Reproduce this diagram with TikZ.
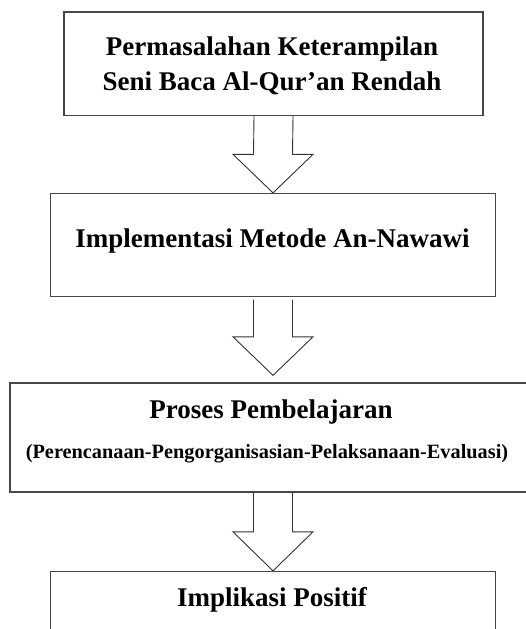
\documentclass[tikz,border=0pt]{standalone}
\usepackage{fontspec}
\setmainfont{Liberation Serif}
\usetikzlibrary{calc}
\begin{document}
\begin{tikzpicture}[x=1pt,y=-1pt,
  box/.style={draw=black!72,line width=1.3pt,rectangle,inner sep=0pt},
  big/.style={font=\bfseries\fontsize{27}{35}\selectfont,anchor=base,inner sep=0pt},
  small/.style={font=\bfseries\fontsize{20.3}{24}\selectfont,anchor=base,inner sep=0pt},
  blockarrow/.style={draw=black!80,line width=0.9pt,line join=miter}]
\clip (0,0) rectangle (526,629);
\fill[white] (0,0) rectangle (526,629);
% boxes
\node[box,minimum width=419pt,minimum height=103.5pt] (b1) at (273.5,63.75) {};
\node[box,minimum width=445pt,minimum height=103pt] (b2) at (273,245) {};
\node[box,minimum width=530pt,minimum height=109pt] (b3) at (275,437.5) {};
\node[box,minimum width=445.5pt,minimum height=108pt] (b4) at (273,625.5) {};
% texts
\node[big] (t1a) at (272,55) {Permasalahan Keterampilan};
\node[big] (t1b) at (272,90.7) {Seni Baca Al-Qur’an Rendah};
\node[big] (t2) at (272.5,247.7) {Implementasi Metode An-Nawawi};
\node[big] (t3a) at (271,418.5) {Proses Pembelajaran};
\node[small] (t3b) at (267,458.5) {(Perencanaan-Pengorganisasian-Pelaksanaan-Evaluasi)};
\node[big] (t4) at (272,606.5) {Implikasi Positif};
% block arrows
\draw[blockarrow] ($(b1.south)+(-19.5,0)$) -- ($(b2.north)+(-19.5,-38.5)$)
  -- ($(b2.north)+(-40,-38.5)$) -- (b2.north) -- ($(b2.north)+(40,-38.5)$)
  -- ($(b2.north)+(19.5,-38.5)$) -- ($(b1.south)+(19.5,0)$);
\coordinate (tip2) at ($(b2.south |- b3.north)+(0,-7)$);
\draw[blockarrow] ($(b2.south)+(-19.5,2.5)$) -- ($(tip2)+(-19.5,-38.5)$)
  -- ($(tip2)+(-40,-38.5)$) -- (tip2) -- ($(tip2)+(40,-38.5)$)
  -- ($(tip2)+(19.5,-38.5)$) -- ($(b2.south)+(19.5,2.5)$);
\coordinate (top3) at (b4.north |- b3.south);
\draw[blockarrow] ($(top3)+(-19.5,0)$) -- ($(b4.north)+(-19.5,-39)$)
  -- ($(b4.north)+(-40,-39)$) -- (b4.north) -- ($(b4.north)+(40,-39)$)
  -- ($(b4.north)+(19.5,-39)$) -- ($(top3)+(19.5,0)$);
\end{tikzpicture}
\end{document}
